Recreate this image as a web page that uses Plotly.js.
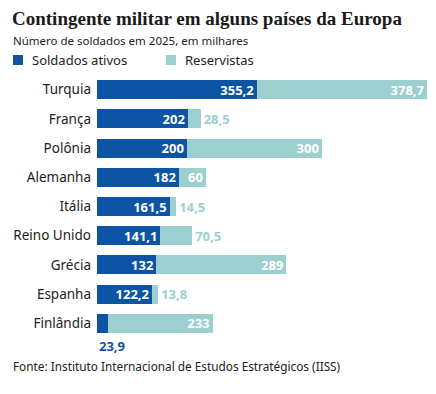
<!DOCTYPE html>
<html><head><meta charset="utf-8">
<script src="https://cdn.plot.ly/plotly-3.0.1.min.js"></script>
<style>html,body{margin:0;padding:0;background:#fff}#c{width:436px;height:394px}</style>
</head><body><div id="c"></div>
<script>
const countries = ["Turquia","França","Polônia","Alemanha","Itália","Reino Unido","Grécia","Espanha","Finlândia"];
const ativos = [355.2, 202, 200, 182, 161.5, 141.1, 132, 122.2, 23.9];
const reservistas = [378.7, 28.5, 300, 60, 14.5, 70.5, 289, 13.8, 233];
const resPos = ["inside","outside","inside","inside","outside","outside","inside","outside","inside"];

const BLUE = "#0d54a5", TEAL = "#9ccfcf";
const fmt = v => String(v).replace(".", ",");
const W = 436, H = 394, L = 97, R = 4, T = 75, B = 56.4;
const pw = W - L - R, ph = H - T - B;
const xp = px => (px - L) / pw;
const yp = py => (H - B - py) / ph;
const FONT = "Noto Sans";

const traces = [
  {type:"bar", orientation:"h", y:countries, x:ativos, name:"Soldados ativos",
   marker:{color:BLUE}, text:ativos.map((v,i)=> i===countries.length-1 ? "" : fmt(v)),
   textposition:"inside", insidetextanchor:"end", constraintext:"none", textangle:0,
   textfont:{family:FONT, size:13, color:"#fff", weight:"bold"}, hoverinfo:"x+y"},
  {type:"bar", orientation:"h", y:countries, x:reservistas, name:"Reservistas",
   marker:{color:TEAL}, text:reservistas.map(fmt), textposition:resPos,
   insidetextanchor:"end", constraintext:"none", cliponaxis:false, textangle:0,
   insidetextfont:{family:FONT, size:13, color:"#fff", weight:"bold"},
   outsidetextfont:{family:FONT, size:13, color:TEAL, weight:"bold"}, hoverinfo:"x+y"}
];

const layout = {
  width:W, height:H, margin:{l:L, r:R, t:T, b:B},
  paper_bgcolor:"#fff", plot_bgcolor:"#fff",
  barmode:"stack", bargap:0.35, showlegend:false,
  font:{family:FONT, color:"#222"},
  xaxis:{range:[0,745], visible:false, fixedrange:true},
  yaxis:{autorange:"reversed", showgrid:false, zeroline:false, showline:false,
         ticks:"", ticklabelstandoff:5, tickfont:{family:FONT, size:13.5, color:"#222"}},
  title:{text:"<b>Contingente militar em alguns países da Europa</b>", x:12/W, xref:"container", xanchor:"left",
         y:1-18/H, yref:"container", yanchor:"middle", font:{family:"Liberation Serif", size:19, color:"#1a1a1a"}},
  shapes:[
    {type:"rect", xref:"paper", yref:"paper", x0:xp(13), x1:xp(23), y0:yp(65), y1:yp(55), fillcolor:BLUE, line:{width:0}},
    {type:"rect", xref:"paper", yref:"paper", x0:xp(166), x1:xp(176), y0:yp(65), y1:yp(55), fillcolor:TEAL, line:{width:0}}
  ],
  annotations:[
    {text:"Número de soldados em 2025, em milhares", xref:"paper", yref:"paper", x:xp(11), y:yp(41),
     xanchor:"left", yanchor:"middle", showarrow:false, font:{family:FONT, size:11.5, color:"#222"}},
    {text:"Soldados ativos", xref:"paper", yref:"paper", x:xp(30), y:yp(60),
     xanchor:"left", yanchor:"middle", showarrow:false, font:{family:FONT, size:13, color:"#222"}},
    {text:"Reservistas", xref:"paper", yref:"paper", x:xp(183), y:yp(60),
     xanchor:"left", yanchor:"middle", showarrow:false, font:{family:FONT, size:13, color:"#222"}},
    {text:"<b>"+fmt(ativos[8])+"</b>", xref:"x", yref:"y", x:0, y:countries[8], yshift:-23,
     xanchor:"left", yanchor:"middle", showarrow:false, font:{family:FONT, size:13, color:BLUE}},
    {text:"Fonte: Instituto Internacional de Estudos Estratégicos (IISS)", xref:"paper", yref:"paper", x:xp(11), y:yp(366),
     xanchor:"left", yanchor:"middle", showarrow:false, font:{family:FONT, size:11.8, color:"#222"}}
  ]
};
Plotly.newPlot("c", traces, layout, {displayModeBar:false, staticPlot:true});
</script></body></html>
